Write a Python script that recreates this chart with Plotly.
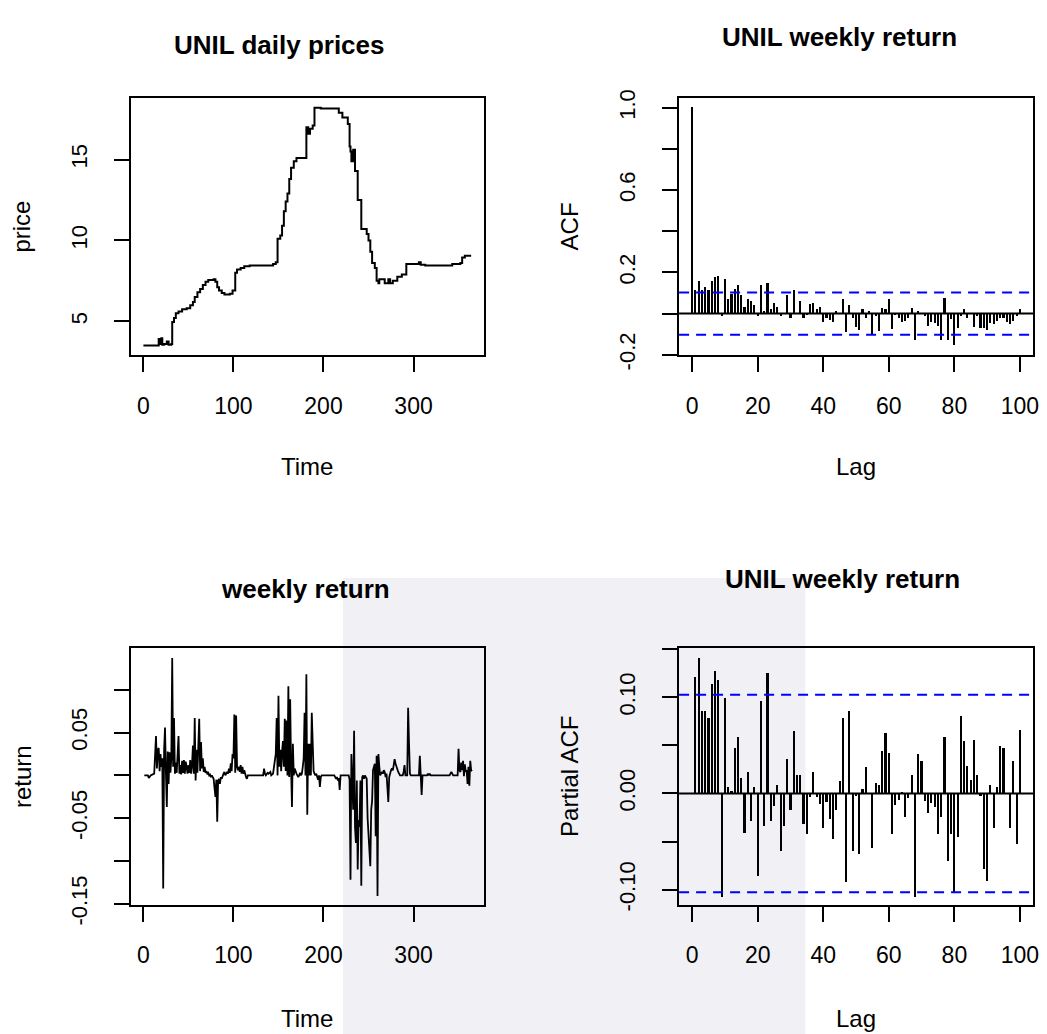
import plotly.graph_objects as go

W, H = 1047, 1034

# ---------------- data ----------------
price_time = [0, 15, 17, 19, 20, 21, 23, 26, 28, 31, 32, 34, 36, 39, 43, 48, 52, 55, 57, 60, 63, 66, 69, 72,
              78, 80, 82, 84, 87, 90, 96, 99, 102, 104, 108, 112, 118, 140, 144, 147, 149, 152, 154, 156,
              158, 160, 162, 164, 167, 170, 181, 183, 185, 188, 190, 197, 214, 217, 221, 227, 229, 230, 231,
              233, 235, 238, 242, 248, 250, 252, 254, 257, 259, 261, 262, 266, 268, 272, 274, 277, 282, 287,
              292, 306, 308, 313, 340, 343, 352, 354, 357, 364]
price_value = [3.5, 3.5, 3.9, 3.6, 3.95, 3.55, 3.6, 3.75, 3.55, 3.6, 4.95, 5.2, 5.5, 5.6, 5.75, 5.8, 6.0, 6.2,
               6.5, 6.8, 7.0, 7.25, 7.45, 7.55, 7.6, 7.45, 7.1, 6.9, 6.75, 6.65, 6.7, 6.9, 8.0, 8.2, 8.3, 8.4,
               8.45, 8.45, 8.55, 8.65, 10.1, 10.3, 10.9, 11.8, 12.4, 12.9, 13.8, 14.5, 14.9, 15.1, 17.0, 16.6,
               16.9, 17.1, 18.2, 18.15, 18.15, 17.9, 17.6, 17.2, 15.8, 15.5, 14.9, 15.6, 14.3, 12.5, 10.7,
               10.4, 10.0, 9.3, 8.6, 8.3, 7.5, 7.35, 7.6, 7.6, 7.35, 7.6, 7.35, 7.5, 7.75, 7.9, 8.55, 8.65,
               8.5, 8.45, 8.45, 8.55, 8.6, 8.95, 9.05, 9.05]

ret_time = [1, 5, 6, 8, 12, 13, 14, 15, 16, 17, 18, 19, 20, 21, 22, 23, 24, 25, 26, 27, 28, 29, 30, 31, 32,
            33, 34, 35, 36, 37, 38, 39, 40, 41, 42, 43, 44, 45, 46, 47, 48, 49, 50, 51, 52, 53, 54, 55, 56,
            57, 58, 59, 60, 61, 62, 63, 64, 65, 66, 67, 68, 69, 70, 71, 72, 73, 74, 75, 76, 77, 78, 79, 80,
            81, 82, 83, 84, 85, 86, 87, 88, 89, 90, 91, 92, 93, 94, 95, 96, 97, 98, 99, 100, 101, 102, 103,
            104, 105, 106, 107, 108, 109, 110, 111, 112, 113, 114, 115, 116, 133, 134, 135, 136, 138, 139,
            141, 142, 144, 145, 146, 147, 148, 149, 150, 151, 152, 153, 154, 155, 156, 157, 158, 159, 160,
            161, 162, 163, 164, 165, 166, 167, 168, 169, 170, 171, 172, 173, 174, 175, 176, 177, 178, 179,
            180, 181, 182, 183, 184, 185, 186, 187, 188, 189, 190, 191, 192, 193, 194, 195, 196, 197, 198,
            212, 213, 214, 215, 216, 217, 218, 219, 228, 229, 230, 231, 232, 233, 234, 235, 236, 237, 238,
            239, 240, 241, 242, 243, 244, 245, 246, 247, 248, 249, 250, 251, 252, 253, 254, 255, 256, 257,
            258, 259, 260, 261, 262, 263, 264, 265, 266, 267, 268, 269, 270, 271, 272, 273, 274, 275, 276,
            277, 278, 279, 280, 281, 282, 283, 284, 285, 288, 289, 290, 291, 293, 294, 295, 296, 297, 306,
            307, 308, 309, 310, 315, 316, 317, 318, 319, 340, 341, 342, 343, 344, 349, 350, 351, 352, 353,
            354, 355, 356, 357, 358, 359, 360, 361, 362, 363, 364, 365]
ret_value = [0, 0, -0.003, 0, 0.002, 0.02, 0.046, 0.008, 0.03, 0.032, 0.005, 0.025, 0.01, 0.02, -0.132, 0.03,
             0.056, 0.003, -0.037, 0.028, -0.01, 0.027, 0.003, 0.02, 0.137, 0.01, 0.067, 0.002, 0.015, 0.003,
             0.02, 0.046, 0.002, 0.012, 0.001, 0.017, 0.003, 0.018, 0.002, 0.016, 0.01, 0.002, 0.012, 0.003,
             0.018, 0.002, 0.012, 0.035, 0.002, 0.067, -0.006, 0.03, 0.003, 0.028, 0.066, 0.005, 0.039, 0.008,
             0.02, 0.004, 0.01, 0.003, 0.005, 0.002, 0.003, 0, 0.001, -0.002, 0, -0.002, -0.004, -0.015,
             -0.025, -0.005, -0.054, -0.006, -0.004, -0.01, -0.002, -0.004, 0, 0.002, 0.004, 0, 0.002, 0.004,
             0.002, 0.008, 0.003, 0.014, 0.005, 0.025, 0.02, 0.071, 0.003, 0.07, 0.01, 0.006, 0.01, 0.004,
             0.012, 0.002, 0.01, 0.002, 0.006, 0, -0.002, -0.004, 0, 0, 0.008, 0.002, 0, 0.003, 0.002, 0.004,
             0, 0.002, 0.01, 0.02, 0.025, 0.067, 0.0, 0.093, 0.01, 0.03, 0.005, 0.028, 0.04, 0.01, 0.066,
             0.005, 0.064, 0.0, 0.104, -0.002, 0.089, 0.01, -0.037, 0.037, 0.0, 0.008, 0.004, 0.002, 0,
             -0.002, 0, 0.003, 0, 0.002, 0.01, 0.02, 0.073, 0.0, 0.118, -0.046, 0.037, 0.0, 0.037, 0.0,
             0.073, 0.037, 0.005, 0.002, 0, 0.002, -0.002, -0.005, 0, -0.0135, -0.002, 0, 0, -0.002, -0.004,
             -0.002, -0.006, -0.003, -0.017, 0, 0, -0.005, -0.122, 0.025, 0.0, -0.04, 0.052, -0.06, -0.079,
             -0.006, -0.11, -0.052, -0.06, -0.006, -0.129, -0.002, 0, -0.004, 0, -0.002, -0.004, -0.05,
             -0.066, -0.09, -0.106, -0.04, -0.03, 0.006, 0.012, 0.0135, -0.071, 0.023, -0.141, 0.025, 0.01, 0,
             0.002, 0.004, 0.002, 0.006, 0.004, -0.002, 0.002, -0.01, -0.031, -0.002, 0.004, 0.006, 0.008,
             0.006, 0.012, 0.019, 0.014, 0.01, 0.007, 0.004, 0.002, 0, 0, 0.004, 0.012, 0, 0, 0.079, 0.037,
             0.002, 0, 0, 0.023, 0, -0.023, 0, 0, 0.002, 0, 0.002, 0, 0, 0.002, 0.004, 0.002, 0, 0, 0.031,
             0.006, 0.004, 0.015, 0.006, 0.017, -0.001, 0.013, 0.004, 0.006, -0.01, 0.01, -0.012, 0.017,
             0.006, 0.005]

acf_lag = list(range(0, 101))
acf_value = [1.0, 0.115, 0.155, 0.115, 0.127, 0.115, 0.155, 0.175, 0.183, -0.013, 0.166, 0.067, 0.096,
             0.118, 0.137, 0.091, 0.032, 0.07, 0.059, 0.038, -0.013, 0.137, 0.011, 0.147, 0.019, 0.051,
             0.032, -0.013, 0.0, 0.088, -0.025, 0.115, 0.0, 0.059, -0.025, -0.01, 0.043, 0.051, 0.019, 0.032,
             -0.041, -0.021, -0.032, -0.041, 0.011, 0.0, 0.067, -0.089, 0.038, -0.021, -0.069, -0.08, 0.019,
             -0.025, 0.011, -0.105, -0.013, -0.084, 0.027, 0.019, 0.067, -0.076, -0.01, -0.021, -0.041,
             -0.037, -0.021, 0.027, -0.132, 0.01, 0.0, -0.013, -0.064, -0.041, -0.048, -0.06, -0.132, 0.075,
             -0.132, -0.029, -0.156, -0.073, -0.013, 0.019, -0.021, 0.0, -0.069, -0.013, -0.073, -0.073,
             -0.08, -0.045, -0.053, -0.037, -0.025, -0.021, -0.041, -0.053, -0.037, -0.013, 0.019]

pacf_lag = list(range(1, 101))
pacf_value = [0.121, 0.141, 0.086, 0.086, 0.079, 0.114, 0.127, 0.118, -0.107, 0.099, 0.007, 0.003, 0.047,
              0.059, 0.016, -0.041, 0.023, -0.028, 0.007, -0.086, 0.096, -0.034, 0.125, -0.028, -0.013, 0.009,
              -0.06, -0.034, 0.036, -0.017, 0.065, 0.019, 0.019, -0.032, -0.042, -0.003, 0.023, -0.003,
              -0.011, -0.036, -0.009, -0.026, -0.047, -0.017, 0.013, 0.079, -0.092, 0.086, -0.06, -0.002,
              -0.063, 0.005, 0.028, 0.0, -0.057, 0.011, 0.009, 0.044, 0.063, 0.042, -0.042, -0.012, -0.007,
              0.002, -0.024, -0.005, 0.019, -0.107, 0.041, 0.034, -0.008, -0.02, -0.01, -0.014, -0.042,
              -0.024, 0.059, -0.07, -0.042, -0.103, -0.045, 0.081, 0.055, 0.029, 0.014, 0.056, 0.019, -0.002,
              -0.078, -0.091, 0.009, -0.036, 0.007, 0.05, 0.047, 0.0, -0.036, 0.034, -0.052, 0.066]

ci_bound = 0.1026

titles = ["UNIL daily prices", "UNIL weekly return", "weekly return", "UNIL weekly return"]
x_titles = ["Time", "Lag", "Time", "Lag"]
y_titles = ["price", "ACF", "return", "Partial ACF"]

# ---------------- layout helpers ----------------
# vertical correction measured from the rendered page
VS, VO = 0.9753, 5.35


def fx(p):
    return p / W


def fy(p):
    return 1 - ((p - VO) / VS) / H


FONT = "Liberation Sans, Arial, sans-serif"
XTICK_FONT = dict(family=FONT, size=23, color="black")
YTICK_FONT = dict(family=FONT, size=22, color="black")

box_x = [(132, 487), (683, 1039), (132, 487), (683, 1039)]
box_y = [(95, 353), (95, 353), (647, 905), (647, 905)]

fig = go.Figure()

fig.add_trace(go.Scatter(x=price_time, y=price_value, mode="lines",
                         line=dict(color="black", width=2, shape="hv"),
                         xaxis="x", yaxis="y", showlegend=False))
fig.add_trace(go.Bar(x=acf_lag, y=acf_value, width=0.65,
                     marker=dict(color="black", line=dict(width=0)),
                     xaxis="x2", yaxis="y2", showlegend=False))
fig.add_trace(go.Scatter(x=ret_time, y=ret_value, mode="lines",
                         line=dict(color="black", width=1.8),
                         xaxis="x3", yaxis="y3", showlegend=False))
fig.add_trace(go.Bar(x=pacf_lag, y=pacf_value, width=0.65,
                     marker=dict(color="black", line=dict(width=0)),
                     xaxis="x4", yaxis="y4", showlegend=False))


def xaxis_cfg(i, rng, tickvals, ticktext):
    return dict(domain=[fx(box_x[i][0]), fx(box_x[i][1])], range=rng,
                anchor="y" if i == 0 else "y%d" % (i + 1),
                showline=True, mirror=True, linecolor="black", linewidth=2,
                ticks="outside", ticklen=15, tickwidth=2, tickcolor="black",
                tickvals=tickvals, ticktext=ticktext, tickfont=XTICK_FONT,
                ticklabelstandoff=14,
                showgrid=False, zeroline=False, fixedrange=True)


def yaxis_cfg(i, rng, tickvals, ticktext):
    return dict(domain=[fy(box_y[i][1]), fy(box_y[i][0])], range=rng,
                anchor="x" if i == 0 else "x%d" % (i + 1),
                showline=True, mirror=True, linecolor="black", linewidth=2,
                ticks="outside", ticklen=15, tickwidth=2, tickcolor="black",
                tickvals=tickvals, ticktext=ticktext, tickfont=YTICK_FONT,
                tickangle=-90, ticklabelstandoff=18,
                showgrid=False, zeroline=False, fixedrange=True)


time_ticks = [0, 100, 200, 300]
lag_ticks = [0, 20, 40, 60, 80, 100]

fig.update_layout(
    xaxis=xaxis_cfg(0, [-13.5, 378.5], time_ticks, [str(v) for v in time_ticks]),
    yaxis=yaxis_cfg(0, [2.91, 18.79], [5, 10, 15], ["5", "10", "15"]),
    xaxis2=xaxis_cfg(1, [-4, 104], lag_ticks, [str(v) for v in lag_ticks]),
    yaxis2=yaxis_cfg(1, [-0.202, 1.046], [-0.2, 0.0, 0.2, 0.4, 0.6, 0.8, 1.0],
                     ["-0.2", "", "0.2", "", "0.6", "", "1.0"]),
    xaxis3=xaxis_cfg(2, [-13.5, 378.5], time_ticks, [str(v) for v in time_ticks]),
    yaxis3=yaxis_cfg(2, [-0.151, 0.149], [-0.15, -0.10, -0.05, 0.0, 0.05, 0.10],
                     ["-0.15", "", "-0.05", "", "0.05", ""]),
    xaxis4=xaxis_cfg(3, [-4, 104], lag_ticks, [str(v) for v in lag_ticks]),
    yaxis4=yaxis_cfg(3, [-0.1156, 0.1514], [-0.10, -0.05, 0.0, 0.05, 0.10, 0.15],
                     ["-0.10", "", "0.00", "", "0.10", ""]),
)

shapes = []
# faint watermark block behind the lower charts
shapes.append(dict(type="rect", xref="paper", yref="paper", x0=fx(345), x1=fx(810), y0=-0.05, y1=fy(577),
                   fillcolor="#f0f0f5", line=dict(width=0), layer="below"))
for ax in ["2", "4"]:
    shapes.append(dict(type="line", xref="x%s domain" % ax, yref="y%s" % ax, x0=0, x1=1, y0=0, y1=0,
                       line=dict(color="black", width=2)))
    for s in (1, -1):
        shapes.append(dict(type="line", xref="x%s domain" % ax, yref="y%s" % ax, x0=0, x1=1,
                           y0=s * ci_bound, y1=s * ci_bound,
                           line=dict(color="#0000ff", width=2, dash="10px,7px")))

annotations = []
title_pos = [(281, 42), (844, 33), (307, 588), (847, 578)]
for t, (x, y) in zip(titles, title_pos):
    annotations.append(dict(text="<b>%s</b>" % t, x=fx(x), y=fy(y), xref="paper", yref="paper",
                            showarrow=False, xanchor="center", yanchor="middle",
                            font=dict(family=FONT, size=26, color="black")))
xt_pos = [(309, 465), (861, 465), (309, 1019), (861, 1019)]
for t, (x, y) in zip(x_titles, xt_pos):
    annotations.append(dict(text=t, x=fx(x), y=fy(y), xref="paper", yref="paper",
                            showarrow=False, xanchor="center", yanchor="middle",
                            font=dict(family=FONT, size=24, color="black")))
yt_pos = [(22, 224), (573, 224), (22, 776), (573, 776)]
for t, (x, y) in zip(y_titles, yt_pos):
    annotations.append(dict(text=t, x=fx(x), y=fy(y), xref="paper", yref="paper",
                            showarrow=False, xanchor="center", yanchor="middle", textangle=-90,
                            font=dict(family=FONT, size=24, color="black")))

fig.update_layout(
    width=W, height=H, margin=dict(l=0, r=0, t=0, b=0),
    paper_bgcolor="white", plot_bgcolor="rgba(0,0,0,0)",
    shapes=shapes, annotations=annotations, bargap=0,
    showlegend=False,
)

fig.write_html("out.html", config={"displayModeBar": False})
